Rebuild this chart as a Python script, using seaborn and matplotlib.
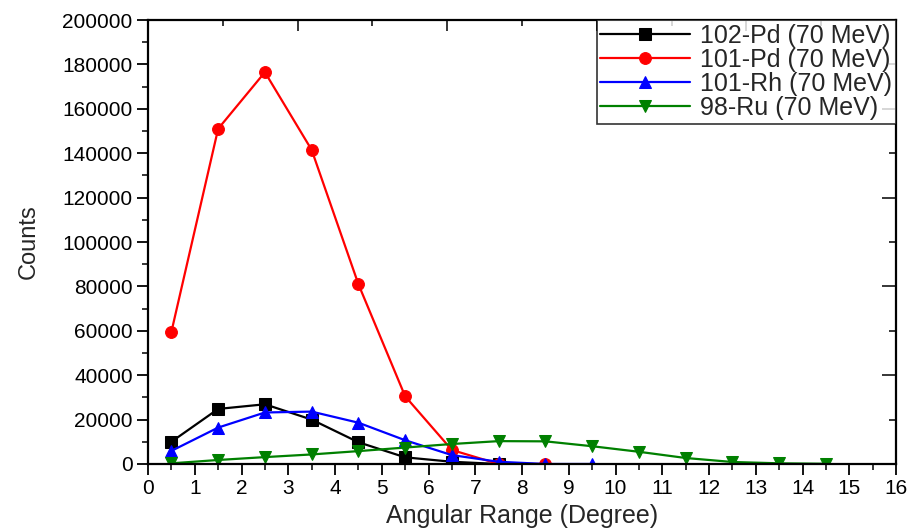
import matplotlib
matplotlib.use("Agg")
import matplotlib.pyplot as plt
import seaborn as sns
import pandas as pd
from matplotlib.ticker import MultipleLocator

sns.set_theme(style="ticks")
plt.rcParams['font.family'] = ['Liberation Sans', 'DejaVu Sans']

x_pd102 = [0.5, 1.5, 2.5, 3.5, 4.5, 5.5, 6.5, 7.5]
y_pd102 = [10000, 24800, 26900, 20000, 9800, 3000, 1000, 0]

x_pd101 = [0.5, 1.5, 2.5, 3.5, 4.5, 5.5, 6.5, 7.5, 8.5]
y_pd101 = [59500, 151000, 176500, 141500, 81000, 30500, 6300, 0, 0]

x_rh101 = [0.5, 1.5, 2.5, 3.5, 4.5, 5.5, 6.5, 7.5, 8.5, 9.5]
y_rh101 = [5900, 16400, 23200, 23600, 18600, 10700, 4000, 1000, 0, 0]

x_ru98 = [0.5, 1.5, 2.5, 3.5, 4.5, 5.5, 6.5, 7.5, 8.5, 9.5, 10.5, 11.5, 12.5, 13.5, 14.5]
y_ru98 = [300, 1800, 3100, 4300, 5800, 7400, 9000, 10300, 10200, 8000, 5500, 2700, 900, 300, 100]

labels = ["102-Pd (70 MeV)", "101-Pd (70 MeV)", "101-Rh (70 MeV)", "98-Ru (70 MeV)"]
colors = ["#000000", "#ff0000", "#0000ff", "#008000"]
markers = ["s", "o", "^", "v"]

series = [(x_pd102, y_pd102), (x_pd101, y_pd101), (x_rh101, y_rh101), (x_ru98, y_ru98)]

fig = plt.figure(figsize=(9.12, 5.31), dpi=100)
ax = fig.add_axes([0.1623, 0.1262, 0.8202, 0.8361])

for (xs, ys), lab, c, m in zip(series, labels, colors, markers):
    df = pd.DataFrame({"x": xs, "y": ys})
    sns.lineplot(data=df, x="x", y="y", ax=ax, color=c, marker=m, markersize=8.5,
                 markeredgecolor=c, linewidth=1.6, label=lab)

ax.set_xlim(0, 16)
ax.set_ylim(0, 200000)
ax.xaxis.set_major_locator(MultipleLocator(1))
ax.xaxis.set_minor_locator(MultipleLocator(0.5))
ax.yaxis.set_major_locator(MultipleLocator(20000))
ax.yaxis.set_minor_locator(MultipleLocator(10000))
ax.tick_params(axis='both', which='major', direction='out', length=8, width=1.3,
               labelsize=15, colors='black', pad=3)
ax.tick_params(axis='both', which='minor', direction='out', length=4.5, width=1.3)
ax.tick_params(which='both', top=False, right=False)
# inward ticks on top and right (Origin-style secondary axes)
axt = ax.secondary_xaxis('top')
axt.xaxis.set_major_locator(MultipleLocator(3.2))
axt.xaxis.set_minor_locator(MultipleLocator(1.6))
axt.tick_params(which='major', direction='in', length=8, width=1.3, labeltop=False)
axt.tick_params(which='minor', direction='in', length=4, width=1.3)
axr = ax.secondary_yaxis('right')
axr.yaxis.set_major_locator(MultipleLocator(40000))
axr.yaxis.set_minor_locator(MultipleLocator(20000))
axr.tick_params(which='major', direction='in', length=10, width=1.3, labelright=False)
axr.tick_params(which='minor', direction='in', length=5, width=1.3)
for a in (axt, axr):
    for s in a.spines.values():
        s.set_visible(False)

for s in ax.spines.values():
    s.set_linewidth(1.6)
    s.set_color('black')

ax.set_xlabel("Angular Range (Degree)", fontsize=18, labelpad=4)
ax.set_ylabel("Counts", fontsize=17, labelpad=16,
              family=['Liberation Sans Narrow', 'Liberation Sans', 'DejaVu Sans'])

leg = ax.legend(loc='upper right', fontsize=18, frameon=True, fancybox=False,
                edgecolor='black', borderaxespad=0, handlelength=3.6,
                borderpad=0.15, labelspacing=0.0, handletextpad=0.4)
leg.get_frame().set_linewidth(1.2)

fig.savefig("out.png", dpi=100)
